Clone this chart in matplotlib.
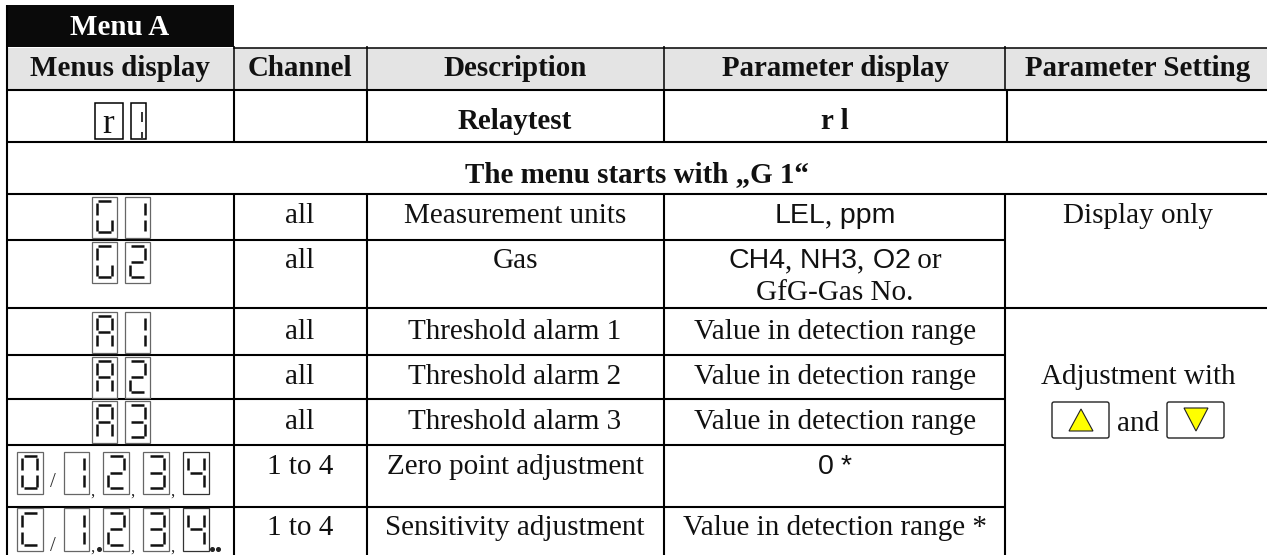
import matplotlib
matplotlib.use('Agg')
import matplotlib.pyplot as plt
from matplotlib.patches import Rectangle, FancyBboxPatch, Polygon

SERIF = 'Liberation Serif'
SANS = 'Liberation Sans'

# table content
menu_title = 'Menu A'
headers = ['Menus display', 'Channel', 'Description', 'Parameter display', 'Parameter Setting']
relay_row = ['Relaytest', 'r l']
start_note = 'The menu starts with \u201eG 1\u201c'
channels = ['all', 'all', 'all', 'all', 'all', '1 to 4', '1 to 4']
descriptions = ['Measurement units', 'Gas', 'Threshold alarm 1', 'Threshold alarm 2',
                'Threshold alarm 3', 'Zero point adjustment', 'Sensitivity adjustment']
params = [
    [('LEL', SANS), (',', SERIF), (' ppm', SANS)],
    [('CH4', SANS), (',', SERIF), (' NH3', SANS), (',', SERIF), (' O2', SANS), (' or', SERIF)],
    [('Value in detection range', SERIF)],
    [('Value in detection range', SERIF)],
    [('Value in detection range', SERIF)],
    [('0', SANS), (' *', SANS)],
    [('Value in detection range *', SERIF)],
]
gas_second_line = 'GfG-Gas No.'
setting_display = 'Display only'
setting_adjust = 'Adjustment with'
setting_and = 'and'
display_pairs = ['G1', 'G2', 'A1', 'A2', 'A3']
display_series = ['0', '1', '2', '3', '4']
display_series2 = ['C', '1', '2', '3', '4']

# which segments are lit: t, ul, ur, m, ll, lr, b
SEGMENTS = {
    '0': 't ul ur ll lr b', '1': 'ur lr', '2': 't ur m ll b', '3': 't ur m lr b',
    '4': 'ul ur m lr', 'A': 't ul ur m ll lr', 'C': 't ul ll b', 'G': 't ul ll lr b',
}

# layout in pixels
COL_X = [234, 367, 664, 1005]
COL_CENTER = [300, 515, 835, 1138]
ROW_Y = [240, 308, 355, 399, 445, 507]
BASELINES = [223, 268, 339, 384, 429, 474, 535]
PAIR_Y = [(197, 238), (242, 283), (312, 353), (357, 398), (401, 443)]
SERIES_X = [(17, 42.5), (64, 89), (103, 129), (143, 169), (183, 209)]
FS = 21
FS_BOLD = 20.9
FS_SANS = 20.5


def setup_figure():
    fig = plt.figure(figsize=(12.67, 5.55), dpi=100)
    ax = fig.add_axes([0, 0, 1, 1])
    ax.set_xlim(0, 1267)
    ax.set_ylim(555, 0)
    ax.axis('off')
    return fig, ax


def label(ax, x, y, s, bold=False, color='#111111', family=SERIF, size=None):
    size = size or (FS_BOLD if bold else FS)
    return ax.text(x, y, s, ha='center', va='baseline', family=family, color=color,
                   fontsize=size, fontweight='bold' if bold else 'normal')


def mixed_label(fig, ax, cx, y, runs):
    # lay the runs out one after the other, then centre the whole line
    renderer = fig.canvas.get_renderer()
    artists = []
    for s, family in runs:
        artists.append(ax.text(0, y, s, ha='left', va='baseline', family=family,
                               fontsize=FS_SANS if family == SANS else FS, color='#111111'))
    widths = []
    for a, (s, family) in zip(artists, runs):
        w, _, _ = renderer.get_text_width_height_descent(
            s, a.get_fontproperties(), False)
        widths.append(w)
    x = cx - sum(widths) / 2
    for a, w in zip(artists, widths):
        a.set_x(x)
        x += w


def draw_grid(ax):
    ax.add_patch(Rectangle((7, 5), 227, 42, fc='#0a0a0a', ec='none'))
    ax.add_patch(Rectangle((8, 48), 1259, 41, fc='#e4e4e4', ec='none'))

    lw = 1.5
    ax.plot([7, 7], [5, 555], color='k', lw=lw, solid_capstyle='butt')
    ax.plot([234, 1267], [47.5, 47.5], color='k', lw=1.1)
    for y in (90, 142, 194):
        ax.plot([7, 1267], [y, y], color='k', lw=lw, solid_capstyle='butt')
    for y in ROW_Y:
        x1 = 1267 if y == 308 else 1006
        ax.plot([7, x1], [y, y], color='k', lw=lw, solid_capstyle='butt')

    for x in COL_X:
        ax.plot([x, x], [46, 90], color='k', lw=1.1, solid_capstyle='butt')
        ax.plot([x + (2 if x == 1005 else 0)] * 2, [90, 142], color='k', lw=lw,
                solid_capstyle='butt')
        ax.plot([x, x], [194, 555], color='k', lw=lw, solid_capstyle='butt')


def draw_digit(ax, x0, x1, y0, y1, char, edge='#666666'):
    ax.add_patch(Rectangle((x0, y0), x1 - x0, y1 - y0, fc='white', ec=edge, lw=0.9, zorder=3))
    w, h = x1 - x0, y1 - y0
    left, right = x0 + 0.2 * w, x0 + 0.8 * w
    top, mid, bot = y0 + 0.105 * h, y0 + 0.49 * h, y0 + 0.855 * h
    pieces = {
        't': ([left + 1.5, right - 0.5], [top, top]),
        'm': ([left + 1.5, right - 1.5], [mid, mid]),
        'b': ([left + 1.5, right - 0.5], [bot, bot]),
        'ul': ([left, left], [top + 2, mid - 2.2]),
        'ur': ([right, right], [top + 2, mid - 2.2]),
        'll': ([left, left], [mid + 2.8, bot - 1.2]),
        'lr': ([right, right], [mid + 2.8, bot - 1.2]),
    }
    for name in SEGMENTS[char].split():
        xs, ys = pieces[name]
        ax.plot(xs, ys, color='#111111', lw=1.8, zorder=4, solid_capstyle='butt')


def draw_displays(ax):
    # relay test
    ax.add_patch(Rectangle((95, 103), 27.5, 36, fc='white', ec='k', lw=1.1))
    label(ax, 108.5, 133, 'r', size=25)
    ax.add_patch(Rectangle((131, 102.5), 15, 36.5, fc='white', ec='k', lw=1.1))
    ax.plot([142, 142], [112, 122], color='#333333', lw=1.4, solid_capstyle='butt')
    ax.plot([142, 142], [132, 138], color='#333333', lw=1.4, solid_capstyle='butt')

    rows = ((display_series, 452, 494, 487), (display_series2, 508, 551, 551))
    for chars, y0, y1, slash_y in rows:
        for ch, (x0, x1) in zip(chars, SERIES_X):
            draw_digit(ax, x0, x1, y0, y1, ch, edge='#333333' if ch == '4' else '#666666')
        ax.text(53, slash_y, '/', ha='center', va='baseline', family=SERIF, fontsize=15,
                color='#333333')
        for cx in (92, 132, 172):
            ax.text(cx, min(y1 + 2, 552), ',', ha='center', va='baseline', family=SERIF,
                    fontsize=12, color='#222222')

    for pair, (y0, y1) in zip(display_pairs, PAIR_Y):
        draw_digit(ax, 91.5, 116.5, y0, y1, pair[0])
        draw_digit(ax, 124.5, 149.5, y0, y1, pair[1])

    ax.plot([99, 212, 218], [548.5, 548.5, 548.5], ls='none', marker='o', ms=2.6, color='#222222')


def draw_arrow_keys(ax):
    for x0 in (1052, 1167):
        ax.add_patch(FancyBboxPatch((x0, 402), 57, 36, boxstyle='round,pad=0,rounding_size=2',
                                    fc='white', ec='#222222', lw=1.0))
    ax.add_patch(Polygon([(1081, 409), (1069, 431), (1093, 431)], fc='#ffff00', ec='#222222', lw=0.8))
    ax.add_patch(Polygon([(1184, 408), (1208, 408), (1196, 431)], fc='#ffff00', ec='#222222', lw=0.8))


def draw_text(fig, ax):
    label(ax, 120, 35, menu_title, bold=True, color='white')
    label(ax, 120, 76, headers[0], bold=True)
    for cx, head in zip(COL_CENTER, headers[1:]):
        label(ax, cx, 76, head, bold=True)

    label(ax, COL_CENTER[1], 129, relay_row[0], bold=True)
    label(ax, COL_CENTER[2], 129, relay_row[1], bold=True)
    label(ax, 637, 182, start_note, bold=True)

    for i, y in enumerate(BASELINES):
        label(ax, COL_CENTER[0], y, channels[i])
        label(ax, COL_CENTER[1], y, descriptions[i])
        mixed_label(fig, ax, COL_CENTER[2], y, params[i])

    label(ax, COL_CENTER[2], 300, gas_second_line)
    label(ax, COL_CENTER[3], 223, setting_display)
    label(ax, COL_CENTER[3], 384, setting_adjust)
    label(ax, COL_CENTER[3], 431, setting_and)


def main():
    fig, ax = setup_figure()
    draw_grid(ax)
    draw_displays(ax)
    draw_arrow_keys(ax)
    draw_text(fig, ax)
    fig.savefig('out.png', dpi=100)


if __name__ == "__main__":
    main()
